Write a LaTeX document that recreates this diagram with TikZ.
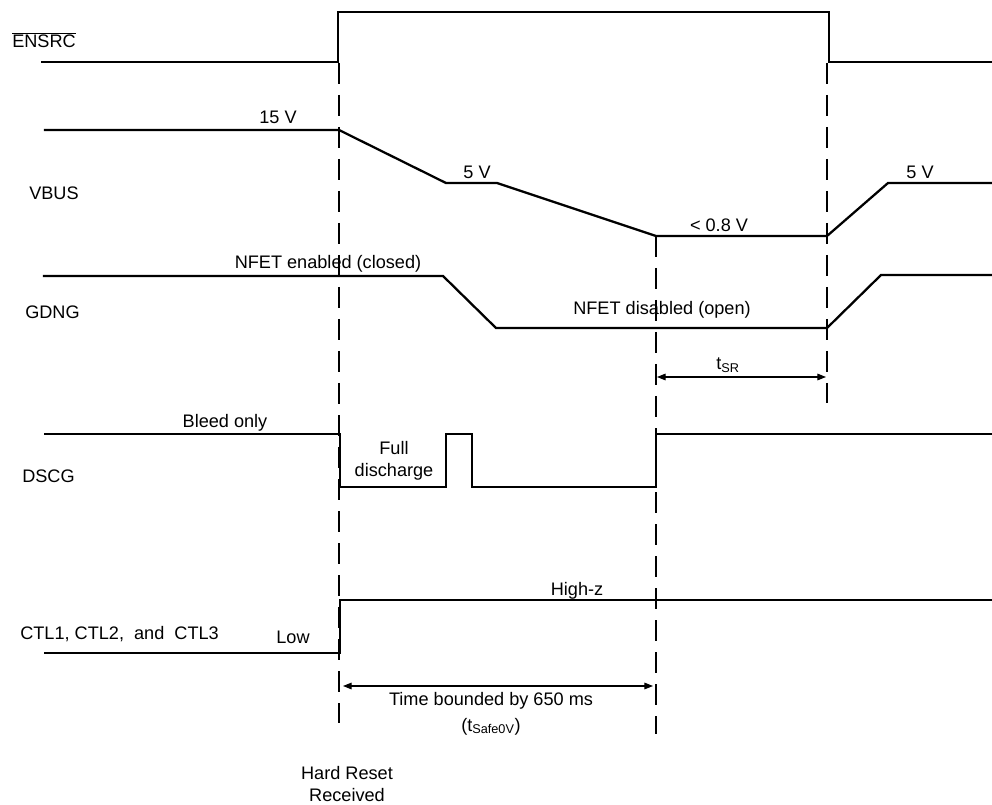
\documentclass[tikz,border=0pt]{standalone}
\usepackage{fontspec}
\setmainfont{Liberation Sans}
\usepackage{tikz}
\usetikzlibrary{arrows.meta,positioning}
\newcommand{\sigfont}{\fontsize{13.6}{16.8}\selectfont}
\tikzset{
  signal/.style = {line width=1.7pt, line join=miter, line cap=rect},
  marker/.style = {line width=1.7pt, dash pattern=on 15.5pt off 8.5pt},
  span/.style = {{Triangle[length=6.5pt,width=5pt]}-{Triangle[length=6.5pt,width=5pt]}, line width=0.8pt},
  tag/.style = {anchor=base},
  rowname/.style = {anchor=base west},
}

\begin{document}
\begin{tikzpicture}[x=0.75pt, y=-0.75pt, every node/.style={inner sep=0pt, font=\sigfont}]
  \useasboundingbox (0,0) rectangle (992,805);

  % Signal names
  \node[rowname] (ensrc) at (12,48) {$\overline{\mbox{ENSRC}}$};
  \node[rowname] (vbus) at (29,200) {VBUS};
  \node[rowname] (gdng) at (25,319) {GDNG};
  \node[rowname] (dscg) at (22,482) {DSCG};
  \node[rowname] (ctl) at (20,639) {CTL1, CTL2,\ \ and\ \ CTL3};

  % Waveforms
  \draw[signal] (42,62) -- (338,62) -- (338,12) -- (829,12) -- (829,62) -- (992,62);
  \draw[signal] (45,130) -- (339,130) -- (446,183) -- (497,183) -- (656,236)
    -- (827,236) -- (888,183) -- (992,183);
  \draw[signal] (44,276) -- (443,276) -- (496,328) -- (827,328) -- (881,275) -- (992,275);
  \draw[signal] (45,434) -- (340,434) -- (340,487) -- (446,487) -- (446,434) -- (472,434)
    -- (472,487) -- (656,487) -- (656,434) -- (992,434);
  \draw[signal] (45,653) -- (340,653) -- (340,600) -- (992,600);

  % Time markers
  \foreach \x/\ya/\yb in {339/63/723, 827/63/403, 656/236/734}
    \draw[marker] (\x,\ya) -- (\x,\yb);

  % Level labels
  \node[tag] (v15) at (278,124) {15 V};
  \node[tag] (v5a) at (477,179) {5 V};
  \node[tag] (vlow) at (719,232) {< 0.8 V};
  \node[tag] (v5b) at (920,179) {5 V};
  \node[tag] (feton) at (328,269) {NFET enabled (closed)};
  \node[tag] (fetoff) at (662,315) {NFET disabled (open)};
  \node[tag] (bleed) at (225,427) {Bleed only};
  \node[anchor=north, align=center] (full) at (394,441) {Full\\discharge};
  \node[tag] (highz) at (577,595) {High-z};
  \node[tag] (low) at (293,643) {Low};

  % Intervals
  \coordinate (sra) at (657,377);
  \coordinate (srb) at (826,377);
  \draw[span] (sra) -- (srb);
  \node[tag] (tsr) at (728,370) {t\textsubscript{SR}};
  \coordinate (safea) at (343,686);
  \coordinate (safeb) at (653,686);
  \draw[span] (safea) -- (safeb);
  \node[tag] (bound) at (491,705) {Time bounded by 650 ms};
  \node[tag] (tsafe) at (491,731) {(t\textsubscript{Safe0V})};

  \node[anchor=north, align=center] (hreset) at (347,766) {Hard Reset\\Received};
\end{tikzpicture}
\end{document}
